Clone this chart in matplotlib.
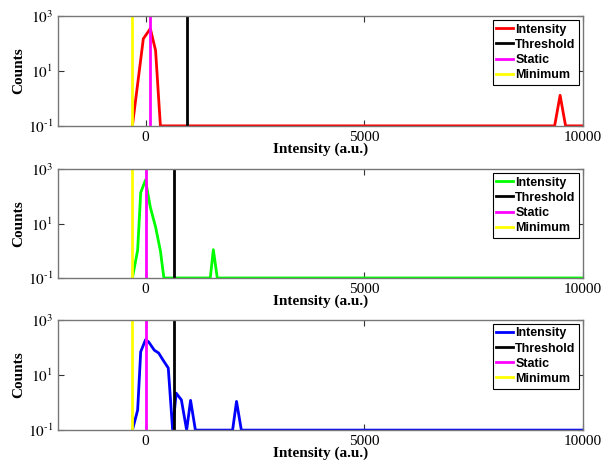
import numpy as np
import matplotlib
matplotlib.use("Agg")
import matplotlib.pyplot as plt
from matplotlib.ticker import FixedLocator, FixedFormatter

# ---------------------------------------------------
# Histogram data (0.1 = empty bin floor)

red_x = [-300, -50, 110, 230, 340, 9350, 9475, 9600, 10000]
red_y = [0.1, 150, 350, 56, 0.1, 0.1, 1.3, 0.1, 0.1]

green_x = [-300, -180, -110, 0, 110, 230, 340, 420, 1480, 1550, 1640, 10000]
green_y = [0.1, 1.05, 138, 400, 40, 7.5, 1.0, 0.1, 0.1, 1.1, 0.1, 0.1]

blue_x = [-300, -180, -110, 0, 70, 200, 300, 400, 520, 620, 700, 820, 940,
          1030, 1140, 1990, 2080, 2190, 10000]
blue_y = [0.1, 0.53, 70, 190, 160, 80, 63, 35, 18, 0.1, 2.2, 1.25, 0.1,
          1.2, 0.1, 0.1, 1.1, 0.1, 0.1]

# Marker lines: threshold, static, minimum
thresholds = [940, 640, 640]
statics = [110, 0, 0]
minimums = [-300, -300, -300]

series = [(red_x, red_y, "#ff0000"),
          (green_x, green_y, "#00ff00"),
          (blue_x, blue_y, "#0000ff")]

plt.rcParams["mathtext.fontset"] = "stix"
serif = "Liberation Serif"
sans = "Liberation Sans"

fig = plt.figure(figsize=(6.08, 4.61), dpi=100)
boxes = [(0.727, 0.965), (0.397, 0.633), (0.067, 0.306)]

for i, (bot, top) in enumerate(boxes):
    ax = fig.add_axes([0.0954, bot, 0.959 - 0.0954, top - bot])
    x, y, col = series[i]
    ax.plot(x, y, color=col, linewidth=2, label="Intensity")
    ax.plot([thresholds[i]] * 2, [0.1, 1000], color="black", linewidth=2, label="Threshold")
    ax.plot([statics[i]] * 2, [0.1, 1000], color="#ff00ff", linewidth=2, label="Static")
    ax.plot([minimums[i]] * 2, [0.1, 1000], color="#ffff00", linewidth=2, label="Minimum")

    ax.set_yscale("log")
    ax.set_xlim(-2000, 10000)
    ax.set_ylim(0.1, 1000)
    ax.xaxis.set_major_locator(FixedLocator([0, 5000, 10000]))
    ax.xaxis.set_major_formatter(FixedFormatter(["0", "5000", "10000"]))
    ax.yaxis.set_major_locator(FixedLocator([0.1, 10, 1000]))
    ax.yaxis.set_major_formatter(FixedFormatter([r"$10^{\text{-}1}$", "$10^{1}$", "$10^{3}$"]))
    ax.yaxis.set_minor_locator(FixedLocator([]))
    ax.tick_params(direction="in", top=True, right=True, length=4,
                   labelsize=11, color="#333333", width=0.8)
    for lab in ax.get_xticklabels():
        lab.set_fontfamily(serif)
    for s in ax.spines.values():
        s.set_color("#777777")
        s.set_linewidth(1.0)

    ax.set_xlabel("Intensity (a.u.)", fontfamily=serif, fontweight="bold",
                  fontsize=11, labelpad=-1)
    ax.set_ylabel("Counts", fontfamily=serif, fontweight="bold", fontsize=11)
    ax.yaxis.set_label_coords(-0.062, 0.5)

    leg = ax.legend(loc="upper right", prop={"family": sans, "weight": "bold", "size": 9},
                    handlelength=1.3, handletextpad=0.2, labelspacing=0.25,
                    borderpad=0.3, borderaxespad=0.3, fancybox=False, framealpha=1)
    leg.get_frame().set_edgecolor("black")
    leg.get_frame().set_linewidth(0.8)

fig.savefig("out.png", dpi=100)
